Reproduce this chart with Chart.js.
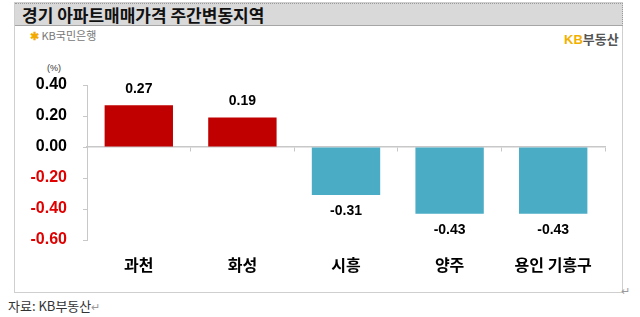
<!DOCTYPE html>
<html>
<head>
<meta charset="utf-8">
<script src="https://cdn.jsdelivr.net/npm/chart.js@4"></script>
<style>
  body { margin: 0; width: 640px; height: 317px; background: #fff; position: relative; overflow: hidden; font-family: "Noto Sans CJK KR", sans-serif; }
  .abs { position: absolute; white-space: nowrap; }
  #frame { left: 14px; top: 2px; width: 607px; height: 289px; border: 1px solid #cfcfcf; }
  #titlebar { left: 15px; top: 3px; width: 607px; height: 21px; background: #d9d9d9; border-top: 1px dotted #9a9a9a; border-right: 1px dotted #9a9a9a; border-bottom: 1px solid #a6a6a6; }
  #title { left: 22px; top: 2px; font-size: 17px; font-weight: bold; color: #111; }
  #bank { left: 30px; top: 27px; font-size: 11px; color: #777; }
  #bank span { color: #f2a900; font-weight: bold; }
  #kbland { left: 564px; top: 29px; font-size: 13px; font-weight: bold; color: #555; }
  #kbland span { color: #f2b100; font-family: "Liberation Sans", sans-serif; }
  #unit { left: 47px; top: 63px; font-size: 9px; color: #333; font-family: "Liberation Sans", sans-serif; }
  #source { left: 8px; top: 296px; font-size: 13px; color: #333; }
  .mark { color: #999; font-size: 11px; }
  #mark2 { left: 621px; top: 282px; }
  canvas { position: absolute; left: 0; top: 0; }
</style>
</head>
<body>
<div id="frame" class="abs"></div>
<div id="titlebar" class="abs"></div>
<div id="title" class="abs">경기 아파트매매가격 주간변동지역</div>
<div id="bank" class="abs"><span>✱</span> KB국민은행</div>
<div id="kbland" class="abs"><span>KB</span>부동산</div>
<div id="unit" class="abs">(%)</div>
<div id="source" class="abs">자료: KB부동산<span class="mark">↵</span></div>
<div id="mark2" class="abs mark">↵</div>
<canvas id="chart" width="640" height="317"></canvas>
<script>
var regions = ['과천', '화성', '시흥', '양주', '용인 기흥구'];
var changes = [0.27, 0.19, -0.31, -0.43, -0.43];
var yTicks = [-0.6, -0.4, -0.2, 0, 0.2, 0.4];

var upColor = '#c00000';
var downColor = '#4bacc6';

var valueLabels = {
  id: 'valueLabels',
  afterDatasetsDraw: function (chart) {
    var ctx = chart.ctx;
    var meta = chart.getDatasetMeta(0);
    ctx.save();
    ctx.font = 'bold 14px "Liberation Sans", Arial, sans-serif';
    ctx.fillStyle = '#000';
    ctx.textAlign = 'center';
    ctx.textBaseline = 'middle';
    meta.data.forEach(function (bar, i) {
      var v = changes[i];
      var y = v >= 0 ? bar.y - 16 : bar.y + 16;
      ctx.fillText(v.toFixed(2), bar.x, y);
    });
    ctx.restore();
  }
};

new Chart(document.getElementById('chart').getContext('2d'), {
  type: 'bar',
  data: {
    labels: regions,
    datasets: [{
      data: changes,
      backgroundColor: changes.map(function (v) { return v >= 0 ? upColor : downColor; }),
      categoryPercentage: 1,
      barPercentage: 0.66
    }]
  },
  options: {
    responsive: false,
    animation: false,
    layout: { padding: { left: 0, right: 35, top: 85, bottom: 27 } },
    plugins: { legend: { display: false }, tooltip: { enabled: false } },
    scales: {
      x: {
        position: 'bottom',
        grid: { display: false },
        border: { display: false },
        ticks: {
          padding: 7,
          color: '#000',
          font: { family: '"Noto Sans CJK KR", sans-serif', size: 16, weight: 'bold' }
        },
        afterFit: function (s) { s.height = 50; }
      },
      x2: {
        type: 'category',
        position: { y: 0 },
        offset: true,
        grid: { offset: true, drawOnChartArea: false, drawTicks: true, tickLength: 4, color: '#c8c8c8' },
        border: { display: true, color: '#c8c8c8', width: 1.5 },
        ticks: { display: false }
      },
      y: {
        min: -0.6,
        max: 0.4,
        afterBuildTicks: function (s) { s.ticks = yTicks.map(function (v) { return { value: v }; }); },
        grid: { drawOnChartArea: false, drawTicks: true, tickLength: 4, color: '#c8c8c8' },
        border: { display: true, color: '#c8c8c8' },
        ticks: {
          padding: 16,
          font: { family: '"Liberation Sans", Arial, sans-serif', size: 16, weight: 'bold' },
          color: function (c) { return c.tick.value < -0.001 ? '#e00000' : '#000'; },
          callback: function (v) { return Number(v).toFixed(2); }
        },
        afterFit: function (s) { s.width = 87; }
      }
    }
  },
  plugins: [valueLabels]
});
</script>
</body>
</html>
